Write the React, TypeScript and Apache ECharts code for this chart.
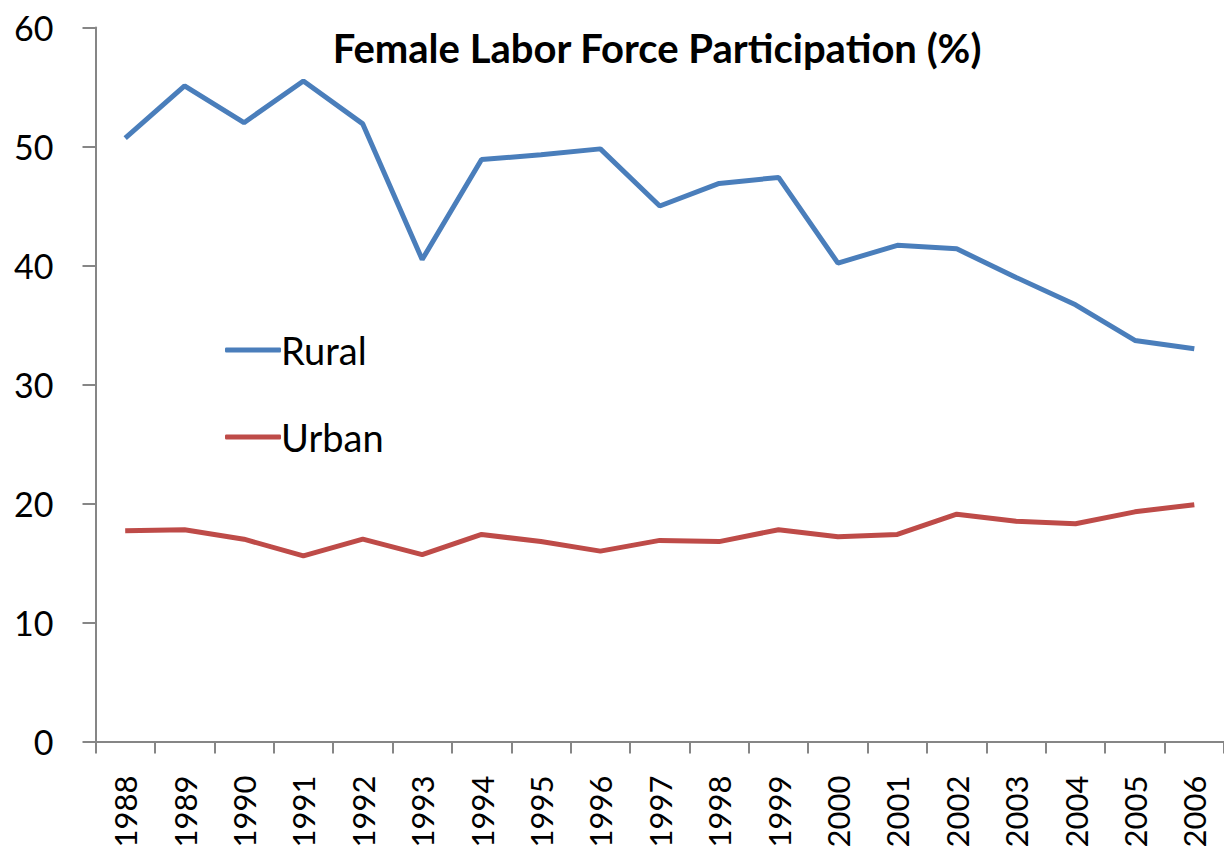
import React, { useEffect, useRef } from "react";
import * as echarts from "echarts";

const years = ["1988","1989","1990","1991","1992","1993","1994","1995","1996","1997","1998","1999","2000","2001","2002","2003","2004","2005","2006"];
const rural = [50.7,55.1,52.0,55.5,51.9,40.5,48.9,49.3,49.8,45.0,46.9,47.4,40.2,41.7,41.4,39.0,36.7,33.7,33.0];
const urban = [17.7,17.8,17.0,15.6,17.0,15.7,17.4,16.8,16.0,16.9,16.8,17.8,17.2,17.4,19.1,18.5,18.3,19.3,19.9];
const titleText = "Female Labor Force Participation (%)";

const FONT = "Lato, 'Open Sans', sans-serif";

export default function App() {
  const ref = useRef<HTMLDivElement>(null);
  useEffect(() => {
    document.body.style.margin = "0";
    const chart = echarts.init(ref.current!, null, { renderer: "svg" });
    chart.setOption({
      animation: false,
      backgroundColor: "#ffffff",
      title: {
        text: titleText,
        left: 652,
        textAlign: "center",
        top: 23,
        textStyle: { fontFamily: FONT, fontWeight: "bold", fontSize: 40, color: "#000" },
      },
      legend: {
        orient: "vertical",
        left: 220,
        top: 326,
        itemWidth: 56,
        itemHeight: 5,
        itemGap: 49,
        icon: "roundRect",
        textStyle: { fontFamily: FONT, fontSize: 38, color: "#000", padding: [0, 0, 0, -5] },
        data: ["Rural", "Urban"],
      },
      grid: { left: 95.5, top: 27.5, width: 1144, height: 714 },
      xAxis: {
        type: "category",
        data: years,
        boundaryGap: true,
        axisLine: { lineStyle: { color: "#868686", width: 2 } },
        axisTick: { show: true, length: 12, lineStyle: { color: "#868686", width: 2 } },
        axisLabel: { rotate: 90, fontFamily: FONT, fontSize: 31, color: "#000", margin: 34, interval: 0 },
        splitLine: { show: false },
      },
      yAxis: {
        type: "value",
        min: 0,
        max: 60,
        interval: 10,
        axisLine: { show: true, lineStyle: { color: "#868686", width: 2 } },
        axisTick: { show: true, length: 13, lineStyle: { color: "#868686", width: 2 } },
        axisLabel: { fontFamily: FONT, fontSize: 34, color: "#000", margin: 42 },
        splitLine: { show: false },
      },
      series: [
        {
          name: "Rural",
          type: "line",
          data: rural,
          symbol: "none",
          lineStyle: { color: "#4a7ebb", width: 5 },
          itemStyle: { color: "#4a7ebb" },
        },
        {
          name: "Urban",
          type: "line",
          data: urban,
          symbol: "none",
          lineStyle: { color: "#be4b48", width: 5 },
          itemStyle: { color: "#be4b48" },
        },
      ],
    });
    return () => chart.dispose();
  }, []);
  return <div ref={ref} style={{ width: 1224, height: 851, position: "absolute", left: 0, top: 0 }} />;
}
